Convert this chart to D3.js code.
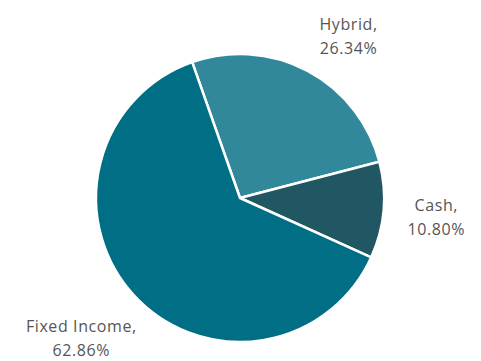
<!DOCTYPE html>
<html>
<head>
<meta charset="utf-8">
<script src="https://cdn.jsdelivr.net/npm/d3@7"></script>
<style>
  body { margin: 0; background: #fff; }
  text { font-family: "Open Sans", sans-serif; }
</style>
</head>
<body>
<div id="chart"></div>
<script>
// ----- data ----- //
const categories = ["Hybrid", "Cash", "Fixed Income"];
const shares = [26.34, 10.80, 62.86];
const labels = ["26.34%", "10.80%", "62.86%"];
const colors = ["#31889b", "#215663", "#006f85"];

// ----- setup ----- //
const width = 481, height = 361;
const cx = 240, cy = 198, radius = 144;

const svg = d3.select('#chart').append('svg')
              .attr('width', width)
              .attr('height', height);

const graph = svg.append('g')
                 .attr('transform', `translate(${cx}, ${cy})`);

const startA = -19.4 * Math.PI / 180;

const pie = d3.pie()
              .sort(null)
              .value(d => d)
              .startAngle(startA)
              .endAngle(startA + 2 * Math.PI);

const arcs = pie(shares);

const arc = d3.arc().innerRadius(0).outerRadius(radius);
const labelArc = d3.arc().innerRadius(195).outerRadius(195);

// slices
graph.selectAll('path')
     .data(arcs)
     .enter()
     .append('path')
     .attr('d', arc)
     .attr('fill', (d, i) => colors[i])
     .attr('stroke', '#fff')
     .attr('stroke-width', 2.5)
     .attr('stroke-linejoin', 'round');

// small nudges so labels sit like the original best-fit ones
const nudge = [[17, 10], [2, 2], [-15, 8]];

const lbl = graph.selectAll('.lbl')
     .data(arcs)
     .enter()
     .append('text')
     .attr('class', 'lbl')
     .attr('text-anchor', 'middle')
     .style('font-size', '16px')
     .style('letter-spacing', '0.6px')
     .attr('fill', '#555')
     .attr('transform', (d, i) => {
         const c = labelArc.centroid(d);
         return `translate(${c[0] + nudge[i][0]}, ${c[1] + nudge[i][1]})`;
     });

lbl.append('tspan')
   .attr('x', 0)
   .attr('y', -6)
   .text((d, i) => categories[i] + ',');

lbl.append('tspan')
   .attr('x', 0)
   .attr('y', 18)
   .text((d, i) => labels[i]);
</script>
</body>
</html>
